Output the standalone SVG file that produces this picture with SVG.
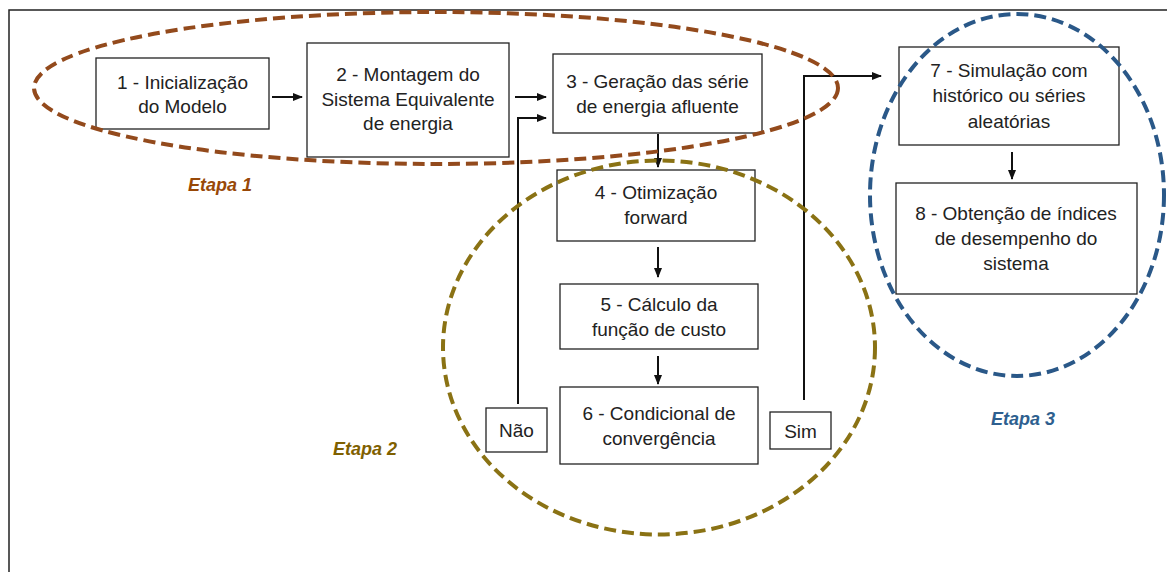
<svg xmlns="http://www.w3.org/2000/svg" width="1167" height="572" viewBox="0 0 1167 572">
<style>
.box{fill:#fff;stroke:#222;stroke-width:1.3}
.t{font-family:"Liberation Sans",Arial,sans-serif;font-size:19px;fill:#222;text-anchor:middle}
.lbl{font-family:"Liberation Sans",Arial,sans-serif;font-size:18px;font-weight:bold;font-style:italic;text-anchor:middle}
.con{fill:none;stroke:#111;stroke-width:2}
.el{fill:none;stroke-width:4;stroke-dasharray:12 6}
</style>
<defs>
<marker id="ah" markerWidth="10" markerHeight="8" refX="9" refY="4" orient="auto" markerUnits="userSpaceOnUse">
<path d="M0,0 L10,4 L0,8 Z" fill="#111"/>
</marker>
</defs>
<rect width="1167" height="572" fill="#fff"/>
<path d="M9,572 V10 H1167" fill="none" stroke="#222" stroke-width="1.5"/>

<g id="n1"><rect class="box" x="96" y="58" width="173" height="71"/><text class="t" x="182.5" y="89">1 - Inicialização</text><text class="t" x="182.5" y="113">do Modelo</text></g>
<g id="n2"><rect class="box" x="307" y="43" width="202" height="114"/><text class="t" x="408" y="81">2 - Montagem do</text><text class="t" x="408" y="106">Sistema Equivalente</text><text class="t" x="408" y="130">de energia</text></g>
<g id="n3"><rect class="box" x="553" y="54" width="209" height="79"/><text class="t" x="657.5" y="88">3 - Geração das série</text><text class="t" x="657.5" y="113">de energia afluente</text></g>
<g id="n4"><rect class="box" x="557" y="170" width="198" height="71"/><text class="t" x="656" y="199">4 - Otimização</text><text class="t" x="656" y="224">forward</text></g>
<g id="n5"><rect class="box" x="560" y="284" width="198" height="65"/><text class="t" x="659" y="311">5 - Cálculo da</text><text class="t" x="659" y="336">função de custo</text></g>
<g id="n6"><rect class="box" x="560" y="387" width="198" height="77"/><text class="t" x="659" y="420">6 - Condicional de</text><text class="t" x="659" y="445">convergência</text></g>
<g id="nao"><rect class="box" x="486" y="408" width="61" height="44"/><text class="t" x="516.5" y="437">Não</text></g>
<g id="sim"><rect class="box" x="770" y="412" width="61" height="37"/><text class="t" x="800.5" y="438">Sim</text></g>
<g id="n7"><rect class="box" x="899" y="47" width="220" height="98"/><text class="t" x="1009" y="77">7 - Simulação com</text><text class="t" x="1009" y="102">histórico ou séries</text><text class="t" x="1009" y="128">aleatórias</text></g>
<g id="n8"><rect class="box" x="896" y="183" width="241" height="111"/><text class="t" x="1016" y="220">8 - Obtenção de índices</text><text class="t" x="1016" y="245">de desempenho do</text><text class="t" x="1016" y="270">sistema</text></g>

<g id="connectors">
<path class="con" d="M272,97 H302" marker-end="url(#ah)"/>
<path class="con" d="M515,97 H546" marker-end="url(#ah)"/>
<path class="con" d="M518,404 V118 H546" marker-end="url(#ah)"/>
<path class="con" d="M658,134 V167" marker-end="url(#ah)"/>
<path class="con" d="M658,247 V277" marker-end="url(#ah)"/>
<path class="con" d="M658,356 V384" marker-end="url(#ah)"/>
<path class="con" d="M804,400 V76 H881" marker-end="url(#ah)"/>
<path class="con" d="M1012,152 V179" marker-end="url(#ah)"/>
</g>

<g id="etapa1"><ellipse class="el" cx="436" cy="88" rx="402" ry="76" stroke="#934a1c"/><text class="lbl" x="220" y="191" fill="#984807">Etapa 1</text></g>
<g id="etapa2"><ellipse class="el" cx="659" cy="347.5" rx="216" ry="187" stroke="#8a7214"/><text class="lbl" x="365" y="455" fill="#7f6000">Etapa 2</text></g>
<g id="etapa3"><ellipse class="el" cx="1017" cy="195" rx="147" ry="181" stroke="#2a5888"/><text class="lbl" x="1023" y="425" fill="#2e5f8f">Etapa 3</text></g>
</svg>
